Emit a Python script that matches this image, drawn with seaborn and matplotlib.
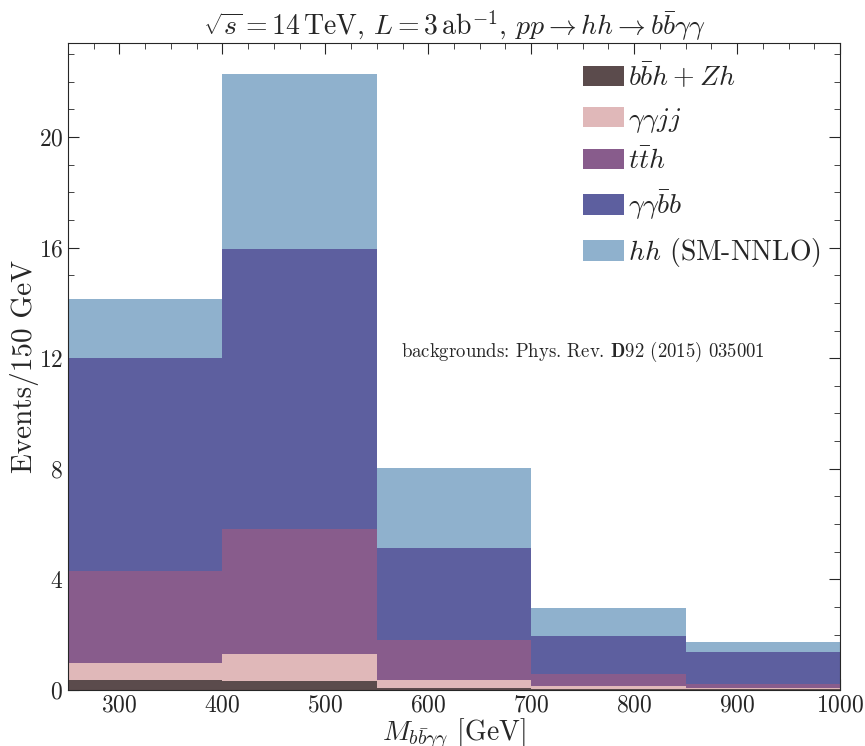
import matplotlib
matplotlib.use('Agg')
import matplotlib.pyplot as plt
from matplotlib.patches import Patch
from matplotlib.ticker import MultipleLocator
import numpy as np
import pandas as pd
import seaborn as sns

# bin edges in GeV and per-bin events for each process (not cumulative)
bin_edges = [250, 400, 550, 700, 850, 1000]
bin_centers = [325, 475, 625, 775, 925]

processes = ['bbh_zh', 'aajj', 'tth', 'aabb', 'hh']
labels = [r'$b\bar{b}h+Zh$', r'$\gamma\gamma jj$', r'$t\bar{t}h$',
          r'$\gamma\gamma\bar{b}b$', r'$hh$ (SM-NNLO)']
colors = ['#5b4b4c', '#e0b8b9', '#885c8c', '#5d5f9f', '#8fb1cd']

bbh_zh = [0.36, 0.33, 0.07, 0.04, 0.03]
aajj = [0.62, 0.97, 0.29, 0.10, 0.04]
tth = [3.32, 4.52, 1.45, 0.44, 0.15]
aabb = [7.70, 10.13, 3.33, 1.37, 1.15]
hh = [2.14, 6.33, 2.89, 1.02, 0.37]

values = {'bbh_zh': bbh_zh, 'aajj': aajj, 'tth': tth, 'aabb': aabb, 'hh': hh}

rows = []
for p in processes:
    for c, v in zip(bin_centers, values[p]):
        rows.append({'mass': c, 'events': v, 'process': p})
df = pd.DataFrame(rows)

sns.set_style('ticks')
plt.rcParams['font.family'] = 'serif'
plt.rcParams['font.serif'] = ['cmr10']
plt.rcParams['mathtext.fontset'] = 'cm'
plt.rcParams['axes.unicode_minus'] = False
plt.rcParams['axes.formatter.use_mathtext'] = True

fig = plt.figure(figsize=(8.65, 7.46), dpi=100)
ax = fig.add_axes([0.0786, 0.0751, 0.8925, 0.8673])

# seaborn stacks the last hue level at the bottom, so reverse the order
sns.histplot(data=df, x='mass', weights='events', hue='process',
             hue_order=processes[::-1], palette=colors[::-1],
             multiple='stack', bins=bin_edges, element='bars',
             alpha=1, linewidth=0, shrink=1, legend=False, ax=ax)

ax.set_xlim(250, 1000)
ax.set_ylim(0, 23.4)
ax.xaxis.set_major_locator(MultipleLocator(100))
ax.xaxis.set_minor_locator(MultipleLocator(25))
ax.yaxis.set_major_locator(MultipleLocator(4))
ax.yaxis.set_minor_locator(MultipleLocator(1))
ax.tick_params(which='both', direction='in', top=True, right=True, labelsize=17)
ax.tick_params(which='major', length=8)
ax.tick_params(which='minor', length=4)

ax.set_xlabel(r'$M_{b\bar{b}\gamma\gamma}$ [GeV]', fontsize=20, labelpad=0)
ax.set_ylabel('Events/150 GeV', fontsize=21, labelpad=0)
ax.set_title(r'$\sqrt{s}=14\,\mathrm{TeV},\,L=3\,\mathrm{ab}^{-1},\,pp\to hh\to b\bar{b}\gamma\gamma$',
             fontsize=20, pad=6)

ax.text(0.667, 0.522, r'backgrounds: Phys. Rev. $\mathbf{D92}$ (2015) 035001',
        transform=ax.transAxes, fontsize=13.5, ha='center', va='center')

handles = [Patch(facecolor=c, edgecolor='none', label=l) for c, l in zip(colors, labels)]
ax.legend(handles=handles, loc='upper right', fontsize=20, frameon=False,
          handlelength=1.45, handleheight=0.75, handletextpad=0.15, labelspacing=0.5,
          borderaxespad=0.3, bbox_to_anchor=(1.0, 1.0))

fig.savefig('out.png', dpi=100)
